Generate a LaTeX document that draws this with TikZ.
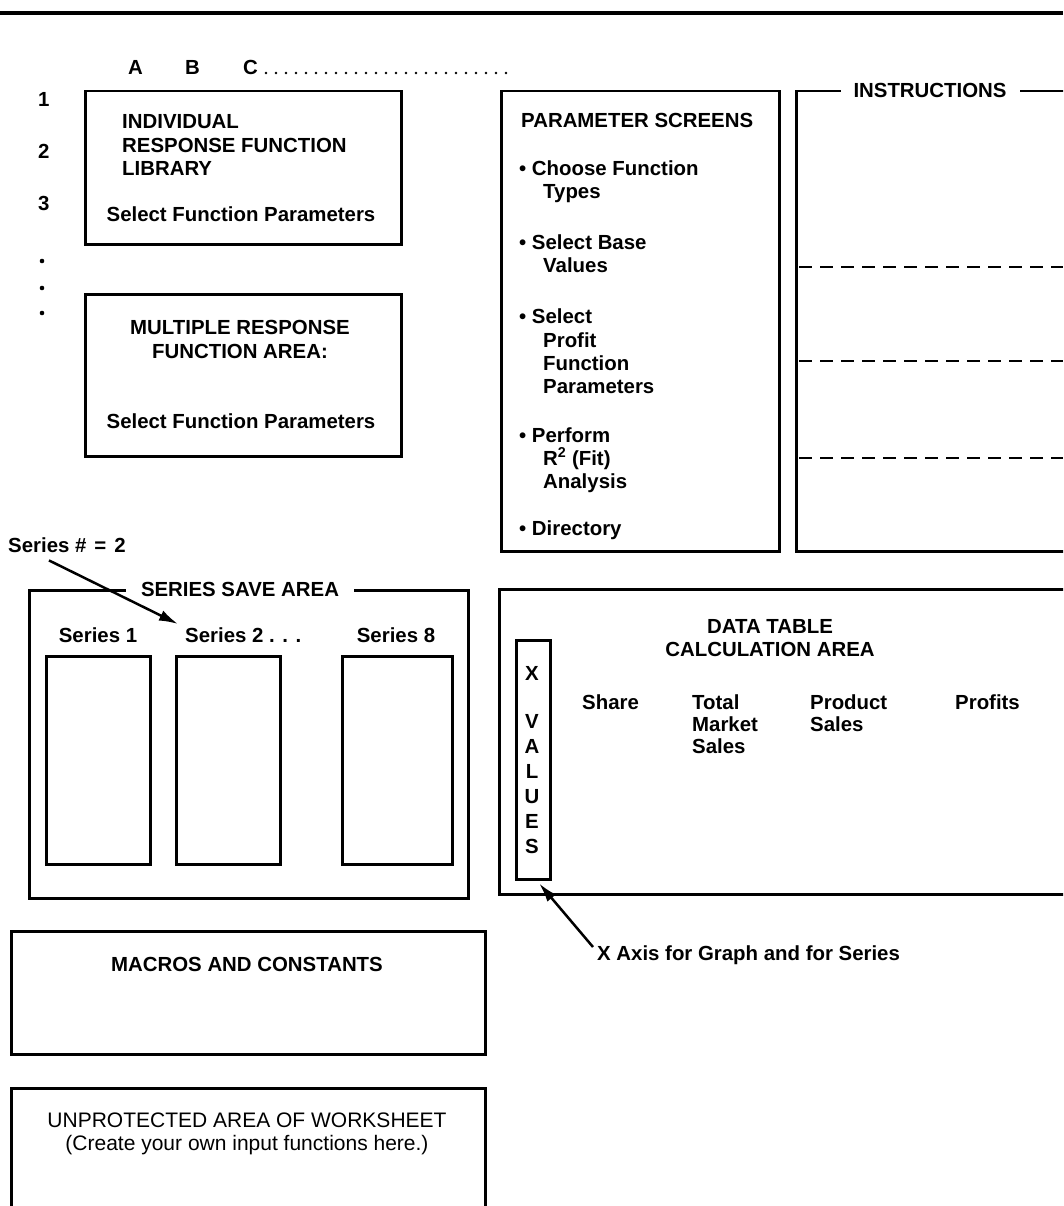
\documentclass[tikz,border=0pt]{standalone}
\usepackage{fontspec}
\setmainfont{Liberation Sans}
\usetikzlibrary{arrows.meta}
\tikzset{
  box/.style={draw, line width=2.5pt, inner sep=0pt, anchor=north west},
  lbl/.style={inner sep=0pt, anchor=base west, font=\bfseries\fontsize{20.4}{24}\selectfont},
  lblc/.style={lbl, anchor=base},
  lblr/.style={inner sep=0pt, anchor=base, font=\fontsize{21}{24}\selectfont},
  gaptitle/.style={lbl, anchor=center, fill=white, inner xsep=14pt, inner ysep=2pt},
  ptr/.style={line width=2.5pt, -{Latex[length=19pt,width=11pt]}},
  divline/.style={line width=2.2pt, dash pattern=on 13pt off 8pt},
}
\begin{document}
\begin{tikzpicture}[x=1pt,y=-1pt]
\useasboundingbox (0,0) rectangle (1063,1206);
\clip (0,0) rectangle (1063,1206);
\fill[white] (0,0) rectangle (1063,1206);
% top rule
\draw[line width=3.2pt] (0,13) -- (1063,13);

% column header
\node[lbl] (colA) at (128,75) {A};
\node[lbl] (colB) at (185,75) {B};
\node[lbl] (colC) at (243,75) {C};
\draw[line width=2.8pt, line cap=round, dash pattern=on 0pt off 10pt] (266,73) -- (512,73);

% row numbers
\node[lbl] (r1) at (38,107) {1};
\node[lbl] (r2) at (38,159) {2};
\node[lbl] (r3) at (38,211) {3};
\fill (42,261) circle (2.3);
\fill (42,288) circle (2.3);
\fill (42,313) circle (2.3);

% individual response function library
\node[box, minimum width=316pt, minimum height=153pt] (lib) at (84,90) {};
\node[lbl] (lib1) at (122,129) {INDIVIDUAL};
\node[lbl] (lib2) at (122,153) {RESPONSE FUNCTION};
\node[lbl] (lib3) at (122,176) {LIBRARY};
\node[lblc] (lib4) at (241,222) {Select Function Parameters};

% multiple response function area
\node[box, minimum width=316pt, minimum height=162pt] (mrf) at (84,293) {};
\node[lblc] (mrf1) at (240,334) {MULTIPLE RESPONSE};
\node[lblc] (mrf2) at (240,358) {FUNCTION AREA:};
\node[lblc] (mrf3) at (241,428) {Select Function Parameters};

% parameter screens
\node[box, minimum width=278pt, minimum height=460pt] (par) at (500,90) {};
\node[lbl] (p0) at (521,128) {PARAMETER SCREENS};
\node[lbl] (p1) at (519,176) {\textbullet\ Choose Function};
\node[lbl] (p1b) at (543,199) {Types};
\node[lbl] (p2) at (519,249) {\textbullet\ Select Base};
\node[lbl] (p2b) at (543,272) {Values};
\node[lbl] (p3) at (519,323) {\textbullet\ Select};
\node[lbl] (p3b) at (543,347) {Profit};
\node[lbl] (p3c) at (543,370) {Function};
\node[lbl] (p3d) at (543,393) {Parameters};
\node[lbl] (p4) at (519,442) {\textbullet\ Perform};
\node[lbl] (p4b) at (543,465) {R\textsuperscript{2} (Fit)};
\node[lbl] (p4c) at (543,488) {Analysis};
\node[lbl] (p5) at (519,535) {\textbullet\ Directory};

% instructions
\node[box, minimum width=300pt, minimum height=460pt] (ins) at (795,90) {};
\node[gaptitle, inner xsep=13pt] (insT) at (930,90) {INSTRUCTIONS};
\draw[divline] (799,267) -- (1063,267);
\draw[divline] (799,361) -- (1063,361);
\draw[divline] (799,458) -- (1063,458);

% series save area
\node[lbl] (ser) at (8,552) {Series \#\hspace{8pt}=\hspace{8pt}2};
\node[box, minimum width=439pt, minimum height=308pt] (save) at (28,589) {};
\node[gaptitle, inner xsep=15pt] (saveT) at (240,589) {SERIES SAVE AREA};
\node[lblc] (s1) at (98,642) {Series 1};
\node[lbl] (s2) at (185,642) {Series 2 . . .};
\node[lblc] (s8) at (396,642) {Series 8};
\node[box, minimum width=104pt, minimum height=208pt] (b1) at (45,655) {};
\node[box, minimum width=104pt, minimum height=208pt] (b2) at (175,655) {};
\node[box, minimum width=110pt, minimum height=208pt] (b8) at (341,655) {};
\draw[ptr] ([xshift=-18pt,yshift=-8pt]ser.south) -- ([xshift=-7pt,yshift=3pt]s2.north west);

% data table
\node[box, minimum width=600pt, minimum height=305pt] (data) at (498,588) {};
\node[lblc] (d1) at (770,633) {DATA TABLE};
\node[lblc] (d2) at (770,656) {CALCULATION AREA};
\node[box, minimum width=34pt, minimum height=239pt] (xval) at (515,639) {};
\node[lblc] (xv1) at (532,680) {X};
\node[lblc] (xv2) at (532,728) {V};
\node[lblc] (xv3) at (532,753) {A};
\node[lblc] (xv4) at (532,778) {L};
\node[lblc] (xv5) at (532,803) {U};
\node[lblc] (xv6) at (532,828) {E};
\node[lblc] (xv7) at (532,853) {S};
\node[lbl] (c1) at (582,709) {Share};
\node[lbl] (c2) at (692,709) {Total};
\node[lbl] (c2b) at (692,731) {Market};
\node[lbl] (c2c) at (692,753) {Sales};
\node[lbl] (c3) at (810,709) {Product};
\node[lbl] (c3b) at (810,731) {Sales};
\node[lbl] (c4) at (955,709) {Profits};
\node[lbl] (xax) at (597,960) {X Axis for Graph and for Series};
\draw[ptr] ([xshift=-4pt,yshift=-2pt]xax.north west) -- ([xshift=6pt,yshift=-3pt]xval.south);

% macros and constants
\node[box, minimum width=474pt, minimum height=123pt] (mac) at (10,930) {};
\node[lblc] (mac1) at (247,971) {MACROS AND CONSTANTS};

% unprotected area
\node[box, minimum width=474pt, minimum height=200pt] (unp) at (10,1087) {};
\node[lblr] (unp1) at (247,1127) {UNPROTECTED AREA OF WORKSHEET};
\node[lblr] (unp2) at (247,1150) {(Create your own input functions here.)};
\end{tikzpicture}
\end{document}
